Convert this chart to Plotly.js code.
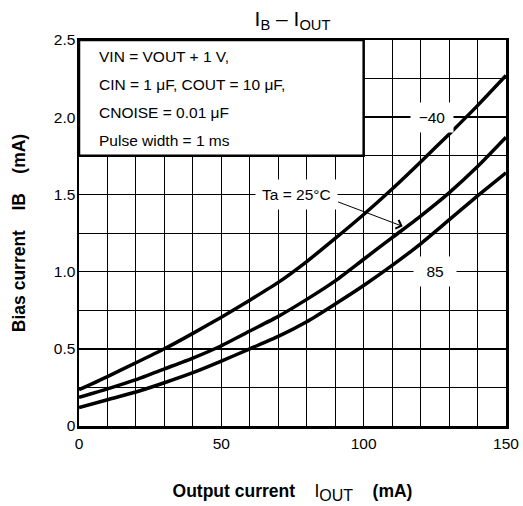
<!DOCTYPE html>
<html>
<head>
<meta charset="utf-8">
<script src="https://cdn.plot.ly/plotly-3.0.1.min.js"></script>
<style>html,body{margin:0;padding:0;background:#fff;}#chart{width:523px;height:506px;}</style>
</head>
<body>
<div id="chart"></div>
<script>
// Output current IOUT (mA)
const ioutMA = [0, 10, 20, 30, 40, 50, 60, 70, 80, 90, 100, 110, 120, 130, 140, 150];
// Bias current IB (mA) for each ambient temperature
const ibTaM40 = [0.235, 0.32, 0.41, 0.50, 0.60, 0.705, 0.815, 0.93, 1.065, 1.215, 1.37, 1.535, 1.71, 1.89, 2.075, 2.27];
const ibTa25  = [0.185, 0.24, 0.30, 0.37, 0.44, 0.52, 0.615, 0.71, 0.82, 0.94, 1.08, 1.22, 1.36, 1.51, 1.68, 1.87];
const ibTa85  = [0.12, 0.17, 0.22, 0.28, 0.345, 0.42, 0.50, 0.58, 0.675, 0.79, 0.91, 1.04, 1.18, 1.335, 1.49, 1.64];

const xTickVals = [0, 50, 100, 150];
const xTickText = ['0', '50', '100', '150'];
const yTickVals = [0, 0.5, 1.0, 1.5, 2.0, 2.5];
const yTickText = ['0', '0.5', '1.0', '1.5', '2.0', '2.5'];
const xMinorGrid = [10, 20, 30, 40, 60, 70, 80, 90, 110, 120, 130, 140];
const yMinorGrid = [0.25, 0.75, 1.25, 1.75, 2.25];

const conditionLines = ['VIN = VOUT + 1 V,', 'CIN = 1 \u03bcF, COUT = 10 \u03bcF,', 'CNOISE = 0.01 \u03bcF', 'Pulse width = 1 ms'];
const conditionY = [2.395, 2.21, 2.03, 1.85];

const FONT = 'Liberation Sans, Arial, Helvetica, sans-serif';

const lineStyle = {color: 'black', width: 3.5, shape: 'spline', smoothing: 0.6};
const traces = [ibTaM40, ibTa25, ibTa85].map((ys, i) => ({
  x: ioutMA, y: ys, type: 'scatter', mode: 'lines',
  line: lineStyle, hoverinfo: 'skip', showlegend: false,
  name: ['-40', '25', '85'][i]
}));

const annotations = conditionLines.map((t, i) => ({
  x: 6.3, y: conditionY[i], xref: 'x', yref: 'y', text: t, showarrow: false,
  xanchor: 'left', yanchor: 'middle', font: {family: FONT, size: 15.5, color: 'black'}
}));

annotations.push(
  {x: 124, y: 2.0, xref: 'x', yref: 'y', text: '\u221240', showarrow: false, bgcolor: 'white',
   width: 30, borderpad: 6, font: {family: FONT, size: 15.5, color: 'black'}},
  {x: 76.5, y: 1.5, xref: 'x', yref: 'y', text: 'Ta = 25\u00b0C', showarrow: false, bgcolor: 'white',
   borderpad: 6, font: {family: FONT, size: 15.5, color: 'black'}},
  {x: 125, y: 1.0, xref: 'x', yref: 'y', text: '85', showarrow: false, bgcolor: 'white',
   width: 30, borderpad: 6, font: {family: FONT, size: 15.5, color: 'black'}},
  {x: 113.7, y: 1.293, ax: 90.5, ay: 1.455, xref: 'x', yref: 'y', axref: 'x', ayref: 'y',
   text: ' ', showarrow: true, arrowhead: 4, arrowsize: 1.8, arrowwidth: 1, arrowcolor: 'black',
   standoff: 0, startstandoff: 0, font: {size: 1}}
);

const layout = {
  width: 523, height: 506,
  margin: {l: 79, r: 17, t: 40, b: 80},
  paper_bgcolor: 'white', plot_bgcolor: 'white',
  font: {family: FONT, size: 15.5, color: 'black'},
  title: {text: 'I<sub>B</sub> \u2013 I<sub>OUT</sub>', xref: 'paper', x: 0.5, xanchor: 'center',
          yref: 'container', y: 0.978, yanchor: 'top', font: {family: FONT, size: 21, color: 'black'}},
  xaxis: {
    range: [0, 150], tickmode: 'array', tickvals: xTickVals, ticktext: xTickText, ticks: '',
    showgrid: true, gridcolor: 'black', gridwidth: 1.5, zeroline: false,
    showline: true, mirror: true, linecolor: 'black', linewidth: 2.5,
    minor: {tickmode: 'array', tickvals: xMinorGrid, showgrid: true, gridcolor: 'black', gridwidth: 1, ticks: ''},
    ticklabelstandoff: 2, fixedrange: true,
    tickfont: {family: FONT, size: 15.5, color: 'black'},
    title: {text: '<b>Output current</b>&nbsp;&nbsp;&nbsp; I<sub><span style="font-size:16px">OUT</span></sub> &nbsp;&nbsp;&nbsp;<b>(mA)</b>',
            standoff: 34, font: {family: FONT, size: 17.5, color: 'black'}}
  },
  yaxis: {
    range: [0, 2.5], tickmode: 'array', tickvals: yTickVals, ticktext: yTickText, ticks: '',
    showgrid: true, gridcolor: 'black', gridwidth: 1.5, zeroline: false,
    showline: true, mirror: true, linecolor: 'black', linewidth: 2.5,
    minor: {tickmode: 'array', tickvals: yMinorGrid, showgrid: true, gridcolor: 'black', gridwidth: 1, ticks: ''},
    ticklabelstandoff: -2, fixedrange: true,
    tickfont: {family: FONT, size: 15.5, color: 'black'},
    title: {text: '<b>Bias current&nbsp;&nbsp;&nbsp; IB &nbsp;&nbsp;&nbsp;(mA)</b>',
            standoff: 24, font: {family: FONT, size: 17.5, color: 'black'}}
  },
  shapes: [
    {type: 'rect', xref: 'x', yref: 'y', x0: 0, x1: 100, y0: 1.75, y1: 2.5,
     fillcolor: 'white', line: {color: 'black', width: 2.5}, layer: 'above'}
  ],
  annotations: annotations
};

Plotly.newPlot('chart', traces, layout, {displayModeBar: false, staticPlot: true});
</script>
</body>
</html>
